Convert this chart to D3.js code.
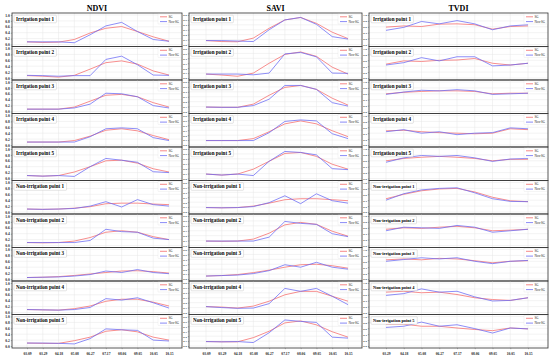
<!DOCTYPE html>
<html>
<head>
<meta charset="utf-8">
<script src="https://cdn.jsdelivr.net/npm/d3@7"></script>
<style>
  body { margin: 0; background: #fff; }
  svg { display: block; }
  .tick text { font-family: "Liberation Serif", serif; fill: #222; }
</style>
</head>
<body>
<svg id="viz" width="550" height="362"></svg>
<script>
// dates
const dates = ['03.09', '03.29', '04.18', '05.08', '06.27', '07.17', '08.06', '09.05', '10.05', '10.15'];
const tvdiDates = ['03.29', '04.18', '05.08', '06.27', '07.17', '08.06', '09.05', '10.05', '10.15'];
const pointNames = ['Irrigation point 1', 'Irrigation point 2', 'Irrigation point 3', 'Irrigation point 4', 'Irrigation point 5',
  'Non-irrigation point 1', 'Non-irrigation point 2', 'Non-irrigation point 3', 'Non-irrigation point 4', 'Non-irrigation point 5'];

// NDVI, one row per point
const ndviSG = [
  [0.09, 0.07, 0.08, 0.17, 0.39, 0.55, 0.61, 0.44, 0.26, 0.11],
  [0.08, 0.06, 0.03, 0.09, 0.30, 0.52, 0.58, 0.47, 0.24, 0.10],
  [0.08, 0.08, 0.08, 0.15, 0.35, 0.55, 0.58, 0.50, 0.30, 0.15],
  [0.10, 0.10, 0.10, 0.15, 0.30, 0.50, 0.55, 0.48, 0.32, 0.18],
  [0.10, 0.08, 0.10, 0.22, 0.40, 0.60, 0.62, 0.52, 0.33, 0.22],
  [0.10, 0.09, 0.10, 0.13, 0.18, 0.28, 0.30, 0.30, 0.27, 0.25],
  [0.10, 0.09, 0.10, 0.15, 0.27, 0.45, 0.50, 0.45, 0.30, 0.20],
  [0.05, 0.06, 0.08, 0.12, 0.17, 0.22, 0.27, 0.28, 0.25, 0.20],
  [0.10, 0.09, 0.08, 0.13, 0.22, 0.38, 0.45, 0.45, 0.35, 0.22],
  [0.10, 0.09, 0.09, 0.18, 0.30, 0.50, 0.55, 0.48, 0.30, 0.20]
];
const ndviNonSG = [
  [0.09, 0.09, 0.09, 0.06, 0.33, 0.63, 0.75, 0.44, 0.17, 0.11],
  [0.09, 0.08, 0.06, 0.08, 0.08, 0.63, 0.74, 0.45, 0.10, 0.09],
  [0.08, 0.08, 0.08, 0.12, 0.25, 0.62, 0.60, 0.50, 0.20, 0.12],
  [0.10, 0.10, 0.10, 0.10, 0.28, 0.55, 0.58, 0.55, 0.25, 0.15],
  [0.10, 0.08, 0.10, 0.07, 0.40, 0.68, 0.62, 0.55, 0.23, 0.20],
  [0.10, 0.09, 0.10, 0.12, 0.20, 0.35, 0.17, 0.42, 0.25, 0.20],
  [0.10, 0.10, 0.10, 0.10, 0.17, 0.55, 0.47, 0.45, 0.25, 0.20],
  [0.05, 0.06, 0.07, 0.10, 0.15, 0.27, 0.22, 0.32, 0.22, 0.18],
  [0.10, 0.09, 0.08, 0.10, 0.17, 0.47, 0.42, 0.50, 0.33, 0.15],
  [0.10, 0.10, 0.09, 0.07, 0.25, 0.58, 0.55, 0.53, 0.20, 0.17]
];

// SAVI
const saviSG = [
  [0.08, 0.06, 0.055, 0.13, 0.33, 0.50, 0.55, 0.43, 0.25, 0.12],
  [0.08, 0.06, 0.035, 0.10, 0.30, 0.48, 0.53, 0.44, 0.22, 0.08],
  [0.09, 0.085, 0.085, 0.15, 0.33, 0.49, 0.53, 0.45, 0.27, 0.13],
  [0.09, 0.09, 0.09, 0.13, 0.27, 0.43, 0.49, 0.43, 0.29, 0.17],
  [0.09, 0.07, 0.09, 0.19, 0.35, 0.51, 0.53, 0.45, 0.29, 0.19],
  [0.09, 0.085, 0.09, 0.12, 0.18, 0.25, 0.27, 0.27, 0.25, 0.23],
  [0.09, 0.085, 0.09, 0.13, 0.25, 0.42, 0.47, 0.43, 0.29, 0.19],
  [0.06, 0.07, 0.09, 0.13, 0.18, 0.24, 0.29, 0.30, 0.27, 0.22],
  [0.12, 0.11, 0.09, 0.13, 0.23, 0.36, 0.43, 0.43, 0.33, 0.23],
  [0.09, 0.085, 0.085, 0.17, 0.30, 0.47, 0.51, 0.43, 0.29, 0.18]
];
const saviNonSG = [
  [0.08, 0.08, 0.07, 0.06, 0.30, 0.50, 0.55, 0.41, 0.16, 0.11],
  [0.08, 0.08, 0.08, 0.065, 0.10, 0.49, 0.52, 0.43, 0.10, 0.095],
  [0.09, 0.085, 0.085, 0.12, 0.25, 0.53, 0.53, 0.45, 0.18, 0.11],
  [0.09, 0.09, 0.09, 0.09, 0.25, 0.48, 0.51, 0.49, 0.23, 0.13],
  [0.09, 0.07, 0.09, 0.06, 0.35, 0.55, 0.53, 0.48, 0.20, 0.18],
  [0.09, 0.085, 0.09, 0.11, 0.19, 0.33, 0.17, 0.37, 0.23, 0.18],
  [0.09, 0.09, 0.09, 0.09, 0.17, 0.49, 0.45, 0.43, 0.24, 0.18],
  [0.06, 0.07, 0.08, 0.11, 0.17, 0.29, 0.24, 0.34, 0.24, 0.20],
  [0.12, 0.10, 0.085, 0.09, 0.18, 0.49, 0.43, 0.49, 0.33, 0.16],
  [0.09, 0.085, 0.09, 0.07, 0.27, 0.53, 0.50, 0.48, 0.18, 0.16]
];

// TVDI
const tvdiSG = [
  [0.59, 0.63, 0.61, 0.69, 0.70, 0.67, 0.52, 0.61, 0.63],
  [0.47, 0.58, 0.56, 0.60, 0.61, 0.66, 0.50, 0.44, 0.50],
  [0.60, 0.65, 0.68, 0.70, 0.70, 0.68, 0.60, 0.62, 0.62],
  [0.48, 0.50, 0.45, 0.42, 0.40, 0.38, 0.40, 0.55, 0.52],
  [0.60, 0.68, 0.72, 0.75, 0.72, 0.68, 0.60, 0.65, 0.65],
  [0.45, 0.60, 0.72, 0.78, 0.80, 0.68, 0.50, 0.38, 0.35],
  [0.55, 0.60, 0.58, 0.62, 0.65, 0.60, 0.50, 0.52, 0.55],
  [0.65, 0.68, 0.65, 0.70, 0.68, 0.62, 0.55, 0.60, 0.62],
  [0.69, 0.72, 0.67, 0.69, 0.61, 0.50, 0.44, 0.41, 0.50],
  [0.74, 0.74, 0.67, 0.67, 0.61, 0.56, 0.52, 0.61, 0.58]
];
const tvdiNonSG = [
  [0.48, 0.58, 0.78, 0.70, 0.81, 0.70, 0.50, 0.63, 0.67],
  [0.44, 0.52, 0.69, 0.58, 0.72, 0.72, 0.41, 0.44, 0.50],
  [0.58, 0.66, 0.72, 0.70, 0.74, 0.70, 0.58, 0.60, 0.62],
  [0.45, 0.52, 0.40, 0.45, 0.35, 0.40, 0.42, 0.58, 0.55],
  [0.55, 0.70, 0.78, 0.75, 0.78, 0.70, 0.58, 0.66, 0.68],
  [0.40, 0.62, 0.75, 0.80, 0.82, 0.65, 0.45, 0.36, 0.35],
  [0.50, 0.62, 0.60, 0.58, 0.68, 0.62, 0.45, 0.50, 0.55],
  [0.60, 0.66, 0.72, 0.68, 0.72, 0.60, 0.52, 0.60, 0.63],
  [0.58, 0.64, 0.80, 0.69, 0.72, 0.53, 0.39, 0.41, 0.50],
  [0.63, 0.67, 0.81, 0.67, 0.72, 0.59, 0.44, 0.61, 0.58]
];

const yTicksNdvi = [0, 0.2, 0.4, 0.6, 0.8, 1.0];
const yTicksSavi = [0, 0.1, 0.2, 0.3, 0.4, 0.5, 0.6];
const yTicksTvdi = [0, 0.2, 0.4, 0.6, 0.8, 1.0];

const SG_COLOR = '#f46b6b', NON_COLOR = '#6b6bf4';
const serif = '"Liberation Serif", "Times New Roman", serif';

const svg = d3.select('#viz');
const rowTop = 13, rowH = 33.5;

const columns = [
  { title: 'NDVI', left: 12, right: 182, dates: dates, sg: ndviSG, non: ndviNonSG, domain: [0, 1], ticks: yTicksNdvi, padL: 15, padR: 13 },
  { title: 'SAVI', left: 189, right: 362, dates: dates, sg: saviSG, non: saviNonSG, domain: [0, 0.6], ticks: yTicksSavi, padL: 17, padR: 14 },
  { title: 'TVDI', left: 369, right: 548, dates: tvdiDates, sg: tvdiSG, non: tvdiNonSG, domain: [0, 1], ticks: yTicksTvdi, padL: 17, padR: 20 }
];

columns.forEach(col => {
  const x = d3.scalePoint().domain(col.dates).range([col.left + col.padL, col.right - col.padR]);

  svg.append('text')
    .attr('x', (col.left + col.right) / 2).attr('y', 11)
    .attr('text-anchor', 'middle')
    .style('font-family', serif).style('font-weight', 'bold').style('font-size', '8px')
    .text(col.title);

  pointNames.forEach((name, i) => {
    const top = rowTop + i * rowH, bottom = top + rowH;
    const y = d3.scaleLinear().domain(col.domain).range([bottom - 2, top + 2]);
    const g = svg.append('g');

    // grid
    g.selectAll('.vg').data(col.dates).enter().append('line')
      .attr('x1', d => x(d)).attr('x2', d => x(d)).attr('y1', top).attr('y2', bottom)
      .attr('stroke', '#e6e6e6').attr('stroke-width', 0.5);
    g.selectAll('.hg').data(col.ticks).enter().append('line')
      .attr('x1', col.left).attr('x2', col.right).attr('y1', d => y(d)).attr('y2', d => y(d))
      .attr('stroke', '#e6e6e6').attr('stroke-width', 0.5);

    // y axis
    const ya = g.append('g').attr('transform', `translate(${col.left},0)`)
      .call(d3.axisLeft(y).tickValues(col.ticks).tickSize(1.2).tickPadding(1).tickFormat(d3.format('.1f')));
    ya.select('.domain').remove();
    ya.selectAll('line').attr('stroke', '#555').attr('stroke-width', 0.4);
    ya.selectAll('text').style('font-size', col.title === 'NDVI' ? '3.6px' : '2.8px').style('font-weight', 'bold');

    // lines
    const line = d3.line().x((d, j) => x(col.dates[j])).y(d => y(d));
    g.append('path').datum(col.sg[i]).attr('d', line)
      .attr('fill', 'none').attr('stroke', SG_COLOR).attr('stroke-width', 0.9).attr('stroke-opacity', 0.85);
    g.append('path').datum(col.non[i]).attr('d', line)
      .attr('fill', 'none').attr('stroke', NON_COLOR).attr('stroke-width', 0.9).attr('stroke-opacity', 0.85);

    // frame
    g.append('rect').attr('x', col.left).attr('y', top).attr('width', col.right - col.left).attr('height', rowH)
      .attr('fill', 'none').attr('stroke', '#3a3a3a').attr('stroke-width', 0.85);

    // point label in a box
    const labG = g.append('g');
    const box = labG.append('rect');
    const lab = labG.append('text')
      .attr('x', col.left + 4).attr('y', top + 7.7)
      .style('font-family', serif).style('font-weight', 'bold')
      .style('font-size', (col.title === 'TVDI' && i > 4) ? '4.4px' : '5.1px')
      .text(name);
    const bb = lab.node().getBBox();
    box.attr('x', bb.x - 2).attr('y', top + 2.2).attr('width', bb.width + 4).attr('height', 7.6)
      .attr('fill', '#fff').attr('stroke', '#bbb').attr('stroke-width', 0.4).attr('rx', 0.8);

    // legend
    const lx = col.right - 24, ly = top + 1;
    g.append('rect').attr('x', lx).attr('y', ly).attr('width', 23).attr('height', 10)
      .attr('fill', '#fff').attr('stroke', '#ddd').attr('stroke-width', 0.3);
    [['SG', SG_COLOR, 2.8], ['Non-SG', NON_COLOR, 7.6]].forEach(([t, c, dy]) => {
      g.append('line').attr('x1', lx + 2).attr('x2', lx + 9).attr('y1', ly + dy).attr('y2', ly + dy)
        .attr('stroke', c).attr('stroke-width', 0.8);
      g.append('text').attr('x', lx + 10.5).attr('y', ly + dy + 1.1)
        .style('font-family', serif).style('font-size', '3.2px').style('fill', '#222').text(t);
    });
  });

  // x axis under the last row
  const bottomY = rowTop + pointNames.length * rowH;
  const xa = svg.append('g').attr('transform', `translate(0,${bottomY})`)
    .call(d3.axisBottom(x).tickSize(1.2).tickPadding(3));
  xa.select('.domain').remove();
  xa.selectAll('line').attr('stroke', '#555').attr('stroke-width', 0.4);
  xa.selectAll('text').style('font-size', '3.6px').style('font-weight', 'bold');
});
</script>
</body>
</html>
